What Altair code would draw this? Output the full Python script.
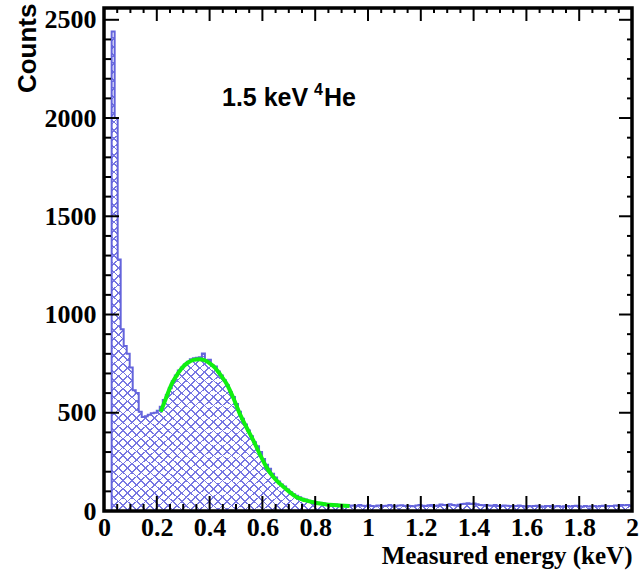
import altair as alt
import pandas as pd

# ---------------- data ----------------
hist_start = 0.029          # low edge of first filled bin (keV)
hist_end = 2.0
counts = [
    2440, 2000, 1280, 925, 840, 800, 730, 615, 600, 505,
    478, 482, 490, 498, 500, 510, 530,
    565, 590, 625, 660, 690, 715, 730, 745, 760, 772,
    778, 780, 782, 802, 765, 770, 740, 735, 710, 690,
    665, 640, 605, 580, 545, 505, 470, 440, 410, 380,
    350, 330, 300, 265, 235, 215, 190, 170, 150, 135,
    125, 110, 95, 85, 78, 70, 62, 58, 52, 48,
    45, 42, 40, 38, 36, 34, 32, 33, 30, 29,
    28, 30, 27,
    28, 26, 30, 27, 25, 29, 26, 24, 28, 27,
    25, 27, 30, 26, 24, 28, 29, 25, 27, 26,
    24, 28, 31, 27, 25, 29, 30, 26, 28, 33,
    30, 29, 34, 31, 28, 32, 35, 37, 40, 36,
    38, 34, 31, 29, 30, 28, 27, 30, 26, 25,
    28, 27, 25, 24, 26, 28, 25, 23, 26, 24,
    25, 27, 24, 22, 25, 26, 23, 24, 25, 22,
    24, 26, 23, 25, 27, 24, 22, 25, 23, 24,
    26, 23, 25, 27, 24, 26, 25, 28, 27, 30, 29, 31, 28,
]

fit_x = [0.215, 0.235, 0.256, 0.28, 0.30, 0.32, 0.34, 0.36, 0.38, 0.40,
         0.42, 0.44, 0.465, 0.49, 0.515, 0.54, 0.566, 0.59, 0.616, 0.64,
         0.667, 0.70, 0.73, 0.76, 0.80, 0.83, 0.87, 0.93]
fit_y = [505, 575, 646, 700, 735, 757, 769, 772, 768, 752,
         730, 695, 646, 575, 493, 425, 358, 290, 222, 175,
         138, 100, 70, 55, 42, 36, 30, 25]

x_major = [0, 0.2, 0.4, 0.6, 0.8, 1.0, 1.2, 1.4, 1.6, 1.8, 2.0]
y_major = [0, 500, 1000, 1500, 2000, 2500]

# ---------------- tables ----------------
n = len(counts)
bw = (hist_end - hist_start) / n
edges = [hist_start + i * bw for i in range(n)] + [hist_end]
hist_df = pd.DataFrame({"E": edges, "N": counts + [counts[-1]]})
outline_df = pd.DataFrame({"E": [hist_start] + edges, "N": [0] + counts + [counts[-1]]})
fit_df = pd.DataFrame({"E": fit_x, "N": fit_y})

x_minor = [round(i * 0.05, 3) for i in range(41) if i % 4 != 0]
y_minor = [i * 100 for i in range(26) if i % 5 != 0]
xmaj_df = pd.DataFrame({"E": x_major})
xmin_df = pd.DataFrame({"E": x_minor})
ymaj_df = pd.DataFrame({"N": y_major})
ymin_df = pd.DataFrame({"N": y_minor})
one = pd.DataFrame({"a": [0]})

W, H = 528, 503
xs = alt.Scale(domain=[0, 2], nice=False, zero=False)
ys = alt.Scale(domain=[0, 2560], nice=False, zero=False)

BLUE = "#6464dc"
HATCH = "#7676e2"
CLEAR = "rgba(255,255,255,0)"

def hatch(x1, y1, x2, y2, periods=115, frac=0.2):
    stops = []
    for k in range(periods):
        a = k / periods
        b = (k + frac) / periods
        c = (k + 1) / periods
        stops += [{"offset": round(a, 6), "color": HATCH},
                  {"offset": round(b, 6), "color": HATCH},
                  {"offset": round(b, 6), "color": CLEAR},
                  {"offset": round(c, 6), "color": CLEAR}]
    return {"gradient": "linear", "x1": x1, "y1": y1, "x2": x2, "y2": y2, "stops": stops}

xenc = alt.X("E:Q", scale=xs,
             axis=alt.Axis(values=x_major, format="~g", domain=False, ticks=False, grid=False,
                           labelFont="Liberation Serif", labelFontWeight="bold", labelFontSize=26,
                           labelColor="black", labelPadding=3, labelFlush=False, labelOverlap=False,
                           title="Measured energy (keV)", titleFont="Liberation Serif",
                           titleFontWeight="bold", titleFontSize=25, titleColor="black",
                           titleAlign="right", titleAnchor="end", titleX=W, titleY=52,
                           titleBaseline="alphabetic"))
yenc = alt.Y("N:Q", scale=ys,
             axis=alt.Axis(values=y_major, format="d", domain=False, ticks=False, grid=False,
                           labelFont="Liberation Serif", labelFontWeight="bold", labelFontSize=26,
                           labelColor="black", labelPadding=8, labelFlush=False, labelOverlap=False,
                           title="Counts", titleFont="Liberation Sans", titleFontWeight="bold",
                           titleFontSize=26, titleColor="black", titleAngle=270,
                           titleAlign="right", titleBaseline="alphabetic", titleX=-69, titleY=-5))

hatch1 = alt.Chart(hist_df).mark_area(interpolate="step-after", fill=hatch(0, 0, 1, 1)).encode(x=xenc, y=yenc)
hatch2 = alt.Chart(hist_df).mark_area(interpolate="step-after", fill=hatch(1, 0, 0, 1)).encode(
    x=alt.X("E:Q", scale=xs), y=alt.Y("N:Q", scale=ys))
outline = alt.Chart(outline_df).mark_line(interpolate="step-after", color=BLUE, strokeWidth=2).encode(
    x=alt.X("E:Q", scale=xs), y=alt.Y("N:Q", scale=ys))
fit = alt.Chart(fit_df).mark_line(interpolate="monotone", color="#10f010", strokeWidth=4).encode(
    x=alt.X("E:Q", scale=xs), y=alt.Y("N:Q", scale=ys))

def xticks(df, length):
    bottom = alt.Chart(df).mark_rule(color="black", strokeWidth=2).encode(
        x=alt.X("E:Q", scale=xs), y=alt.value(H), y2=alt.value(H - length))
    top = alt.Chart(df).mark_rule(color="black", strokeWidth=2).encode(
        x=alt.X("E:Q", scale=xs), y=alt.value(0), y2=alt.value(length - 2))
    return bottom + top

def yticks(df, length):
    left = alt.Chart(df).mark_rule(color="black", strokeWidth=2).encode(
        y=alt.Y("N:Q", scale=ys), x=alt.value(0), x2=alt.value(length))
    right = alt.Chart(df).mark_rule(color="black", strokeWidth=2).encode(
        y=alt.Y("N:Q", scale=ys), x=alt.value(W), x2=alt.value(W - length + 2))
    return left + right

frame = alt.Chart(one).mark_rect(filled=False, stroke="black", strokeWidth=3.5).encode(
    x=alt.value(0), x2=alt.value(W), y=alt.value(0), y2=alt.value(H))

lab1 = alt.Chart(one).mark_text(text="1.5 keV", font="Liberation Sans", fontWeight="bold",
                                fontSize=25, align="left", baseline="alphabetic", color="black").encode(
    x=alt.value(118), y=alt.value(98))
lab2 = alt.Chart(one).mark_text(text="4", font="Liberation Sans", fontWeight="bold",
                                fontSize=16, align="left", baseline="alphabetic", color="black").encode(
    x=alt.value(210), y=alt.value(87))
lab3 = alt.Chart(one).mark_text(text="He", font="Liberation Sans", fontWeight="bold",
                                fontSize=25, align="left", baseline="alphabetic", color="black").encode(
    x=alt.value(220), y=alt.value(98))

chart = alt.layer(
    hatch1, hatch2, outline, fit,
    xticks(xmaj_df, 15), xticks(xmin_df, 7),
    yticks(ymaj_df, 15), yticks(ymin_df, 7),
    frame, lab1, lab2, lab3,
).properties(
    width=W, height=H,
    autosize=alt.AutoSizeParams(type="none"),
    padding={"left": 104, "top": 8, "right": 7, "bottom": 62},
    background="white",
).configure_view(stroke=None)

chart.save("out.html", embed_options={"renderer": "svg", "actions": False})
